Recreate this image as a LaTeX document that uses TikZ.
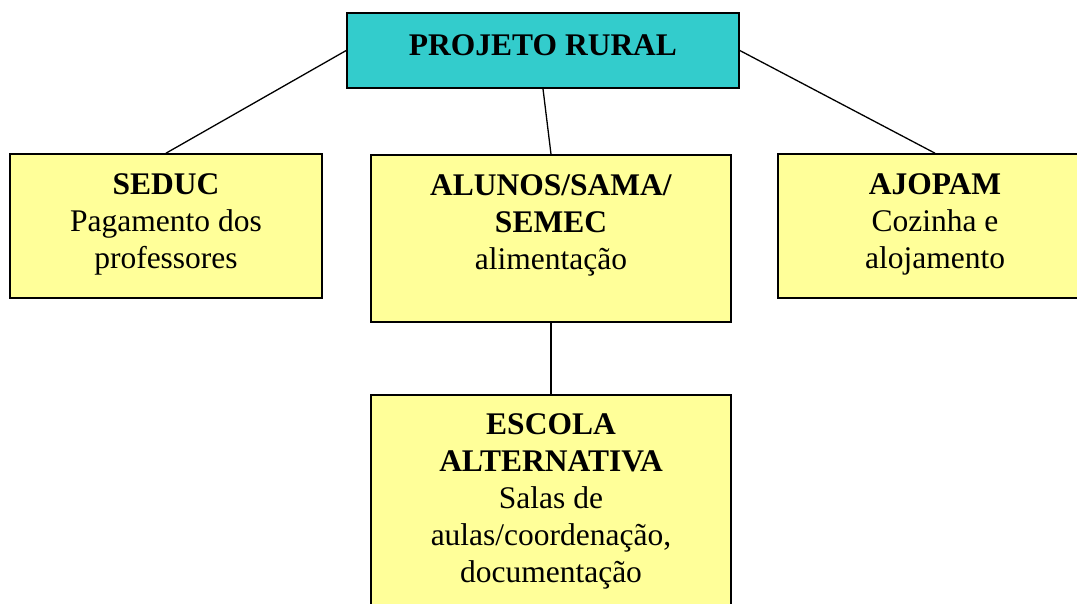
\documentclass[tikz,border=0pt]{standalone}
\usepackage{fontspec}
\setmainfont{Liberation Serif}
\usetikzlibrary{positioning}
\definecolor{rural}{HTML}{33CCCC}
\definecolor{palered}{HTML}{FFFF99}

\begin{document}
\begin{tikzpicture}[x=1pt, y=-1pt]
\tikzset{
    mybox/.style={rectangle, draw=black, fill=palered, line width=1.6pt, inner sep=0pt},
    mytitle/.style={rectangle, draw=black, fill=rural, line width=1.6pt, inner sep=0pt, font=\bfseries},
    mytext/.style={align=center, inner sep=0pt},
    myline/.style={line width=1.3pt}
}
\fontsize{31.5}{37}\selectfont
\useasboundingbox (0,0) rectangle (1077,604);

\node[mytitle, minimum width=392pt, minimum height=75pt, text height=22pt, text depth=12pt] (projeto) at (543,50.5) {PROJETO RURAL};

\node[mybox, minimum width=312pt, minimum height=144pt] (seduc) at (166,226) {};
\node[mybox, minimum width=360pt, minimum height=167pt] (alunos) at (551,238.5) {};
\node[mybox, minimum width=314pt, minimum height=144pt] (ajopam) at (935,226) {};
\node[mybox, minimum width=360pt, minimum height=240pt] (escola) at (551,515) {};

\node[mytext, below=15pt of seduc.north] (seduc-txt) {\strut\textbf{SEDUC}\\Pagamento dos\\professores};
\node[mytext, below=15pt of alunos.north] (alunos-txt) {\strut\textbf{ALUNOS/SAMA/}\\\textbf{SEMEC}\\alimentação};
\node[mytext, below=15pt of ajopam.north] (ajopam-txt) {\strut\textbf{AJOPAM}\\Cozinha e\\alojamento};
\node[mytext, below=14pt of escola.north] (escola-txt) {\strut\textbf{ESCOLA}\\\textbf{ALTERNATIVA}\\Salas de\\aulas/coordenação,\\documentação};

\draw[myline] (projeto.west) -- (seduc.north);
\draw[myline] (projeto.south) -- (alunos.north);
\draw[myline] (projeto.east) -- (ajopam.north);
\draw[myline] (alunos.south) -- (escola.north);

\end{tikzpicture}
\end{document}
